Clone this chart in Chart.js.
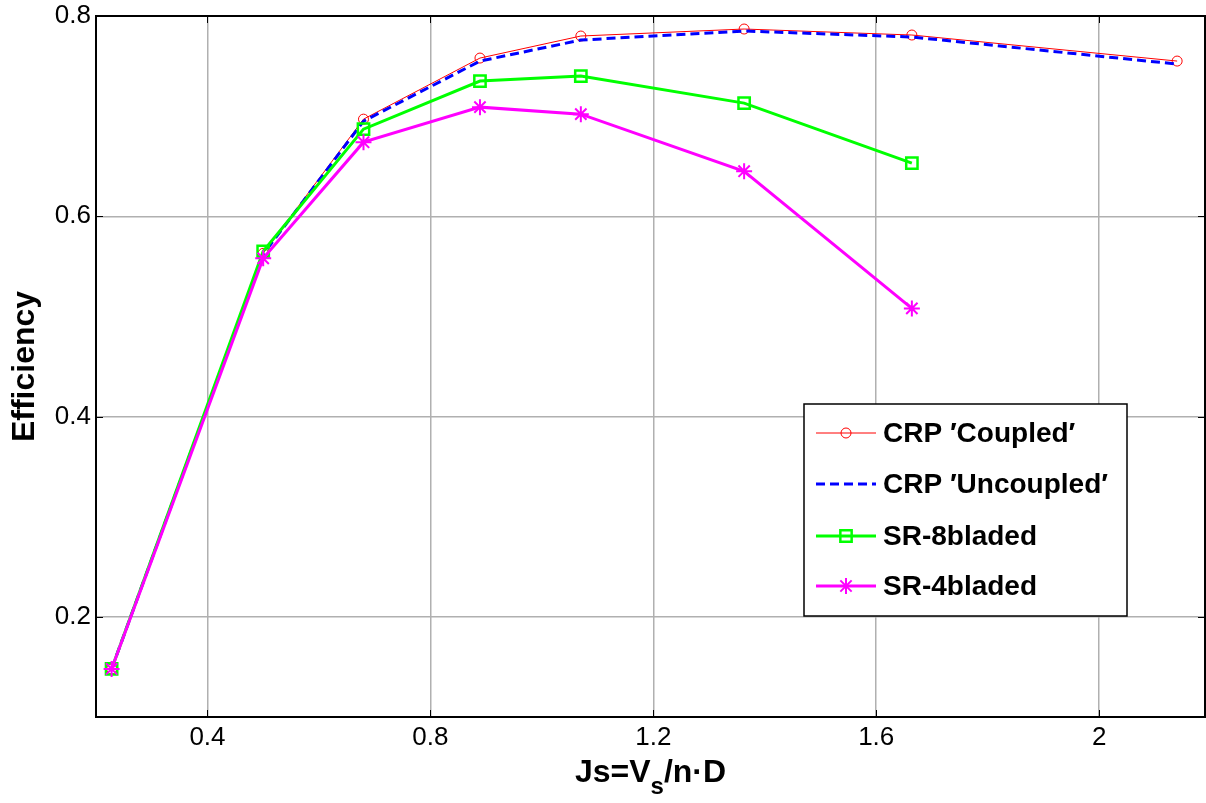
<!DOCTYPE html>
<html>
<head>
<meta charset="utf-8">
<script src="https://cdn.jsdelivr.net/npm/chart.js@4.4.1/dist/chart.umd.min.js"></script>
<style>
  html, body { margin: 0; padding: 0; background: #fff; }
  #wrap { width: 1206px; height: 803px; }
</style>
</head>
<body>
<div id="wrap"><canvas id="effChart" width="1206" height="803"></canvas></div>
<script>
// advance coefficient Js and efficiency for each propeller set
const jsValues = [0.228, 0.5, 0.68, 0.889, 1.07, 1.363, 1.664, 2.14];
const crpCoupled = [0.148, 0.563, 0.697, 0.758, 0.780, 0.787, 0.781, 0.755];
const crpUncoupled = [0.148, 0.562, 0.695, 0.755, 0.776, 0.785, 0.779, 0.752];
const sr8bladed = [0.148, 0.565, 0.687, 0.735, 0.740, 0.713, 0.653];
const sr4bladed = [0.148, 0.558, 0.674, 0.709, 0.702, 0.645, 0.508];

const xTickValues = [0.4, 0.8, 1.2, 1.6, 2];
const yTickValues = [0.2, 0.4, 0.6, 0.8];
const seriesNames = ["CRP \u2032Coupled\u2032", "CRP \u2032Uncoupled\u2032", "SR-8bladed", "SR-4bladed"];

const FONT = "'Liberation Sans', Arial, sans-serif";

function pts(ys) {
    return ys.map((v, i) => ({ x: jsValues[i], y: v }));
}

const datasets = [
    {
        label: seriesNames[0], data: pts(crpCoupled),
        borderColor: "#ff0000", borderWidth: 1,
        pointStyle: "circle", pointRadius: 5, pointBorderWidth: 1,
        pointBorderColor: "#ff0000", pointBackgroundColor: "rgba(0,0,0,0)",
        order: 3
    },
    {
        label: seriesNames[1], data: pts(crpUncoupled),
        borderColor: "#0000ff", borderWidth: 3, borderDash: [9, 5],
        pointRadius: 0, order: 2
    },
    {
        label: seriesNames[2], data: pts(sr8bladed),
        borderColor: "#00ff00", borderWidth: 3,
        pointStyle: "rect", pointRadius: 8, pointBorderWidth: 2.5,
        pointBorderColor: "#00ff00", pointBackgroundColor: "rgba(0,0,0,0)",
        order: 1
    },
    {
        label: seriesNames[3], data: pts(sr4bladed),
        borderColor: "#ff00ff", borderWidth: 3,
        pointStyle: "star", pointRadius: 8, pointBorderWidth: 2,
        pointBorderColor: "#ff00ff", pointBackgroundColor: "#ff00ff",
        order: 0
    }
];

// box, inward ticks, legend and axis titles in the old matlab look
const framePlugin = {
    id: "frame",
    afterDraw(chart) {
        const { ctx, chartArea: a, scales } = chart;
        const x = scales.x, y = scales.y;
        ctx.save();

        ctx.strokeStyle = "#000";
        ctx.lineWidth = 1;
        ctx.beginPath();
        xTickValues.forEach(v => {
            const px = Math.round(x.getPixelForValue(v)) + 0.5;
            ctx.moveTo(px, a.bottom); ctx.lineTo(px, a.bottom - 7);
            ctx.moveTo(px, a.top); ctx.lineTo(px, a.top + 7);
        });
        yTickValues.forEach(v => {
            const py = Math.round(y.getPixelForValue(v)) + 0.5;
            ctx.moveTo(a.left, py); ctx.lineTo(a.left + 7, py);
            ctx.moveTo(a.right, py); ctx.lineTo(a.right - 7, py);
        });
        ctx.stroke();

        ctx.lineWidth = 2;
        ctx.strokeRect(a.left, a.top, a.right - a.left, a.bottom - a.top);

        // legend box
        const lx = 804, ly = 404, lw = 323, lh = 212;
        ctx.fillStyle = "#fff";
        ctx.fillRect(lx, ly, lw, lh);
        ctx.lineWidth = 1.5;
        ctx.strokeStyle = "#000";
        ctx.strokeRect(lx, ly, lw, lh);

        const rowY = [433, 484, 536, 586];
        ctx.font = "bold 28px " + FONT;
        ctx.textBaseline = "middle";
        chart.data.datasets.forEach((ds, i) => {
            const cy = rowY[i];
            ctx.save();
            ctx.strokeStyle = ds.borderColor;
            ctx.lineWidth = ds.borderWidth;
            ctx.setLineDash(ds.borderDash || []);
            ctx.beginPath();
            ctx.moveTo(816, cy); ctx.lineTo(876, cy);
            ctx.stroke();
            ctx.setLineDash([]);
            if (ds.pointRadius > 0) {
                ctx.strokeStyle = ds.pointBorderColor;
                ctx.fillStyle = ds.pointBackgroundColor;
                ctx.lineWidth = ds.pointBorderWidth;
                Chart.helpers.drawPoint(ctx, {
                    pointStyle: ds.pointStyle, radius: ds.pointRadius, rotation: 0,
                    borderWidth: ds.pointBorderWidth
                }, 846, cy);
            }
            ctx.restore();
            ctx.fillStyle = "#000";
            ctx.textAlign = "left";
            ctx.fillText(ds.label, 883, cy + 1);
        });

        // x axis title with subscript
        ctx.fillStyle = "#000";
        ctx.textBaseline = "alphabetic";
        ctx.textAlign = "left";
        const big = "bold 32px " + FONT, small = "bold 24px " + FONT;
        ctx.font = big;
        const w1 = ctx.measureText("Js=V").width;
        const w3 = ctx.measureText("/n\u00b7D").width;
        ctx.font = small;
        const w2 = ctx.measureText("s").width;
        const cx = (a.left + a.right) / 2;
        let tx = cx - (w1 + w2 + w3) / 2;
        const base = 782;
        ctx.font = big;
        ctx.fillText("Js=V", tx, base);
        tx += w1;
        ctx.font = small;
        ctx.fillText("s", tx, base + 12);
        tx += w2;
        ctx.font = big;
        ctx.fillText("/n\u00b7D", tx, base);

        // y axis title
        ctx.save();
        ctx.translate(34, (a.top + a.bottom) / 2);
        ctx.rotate(-Math.PI / 2);
        ctx.textAlign = "center";
        ctx.font = big;
        ctx.fillText("Efficiency", 0, 0);
        ctx.restore();

        ctx.restore();
    }
};

new Chart(document.getElementById("effChart").getContext("2d"), {
    type: "line",
    data: { datasets: datasets },
    options: {
        responsive: false,
        animation: false,
        layout: { autoPadding: false, padding: { top: 16, right: 1, left: 0, bottom: 0 } },
        plugins: { legend: { display: false }, tooltip: { enabled: false } },
        elements: { line: { tension: 0 } },
        scales: {
            x: {
                type: "linear", min: 0.2, max: 2.19,
                afterBuildTicks: s => { s.ticks = xTickValues.map(v => ({ value: v })); },
                afterFit: s => { s.height = 86; s.paddingLeft = 0; s.paddingRight = 0; },
                grid: { color: "#b0b0b0", lineWidth: 1.5, drawTicks: false },
                border: { display: false },
                ticks: {
                    padding: 5, color: "#000",
                    font: { family: FONT, size: 26 },
                    callback: v => String(v)
                }
            },
            y: {
                type: "linear", min: 0.1, max: 0.8,
                afterBuildTicks: s => { s.ticks = yTickValues.map(v => ({ value: v })); },
                afterFit: s => { s.width = 96; s.paddingTop = 0; s.paddingBottom = 0; },
                grid: { color: "#b0b0b0", lineWidth: 1.5, drawTicks: false },
                border: { display: false },
                ticks: {
                    padding: 5, color: "#000",
                    font: { family: FONT, size: 26 },
                    callback: v => String(v)
                }
            }
        }
    },
    plugins: [framePlugin]
});
</script>
</body>
</html>
